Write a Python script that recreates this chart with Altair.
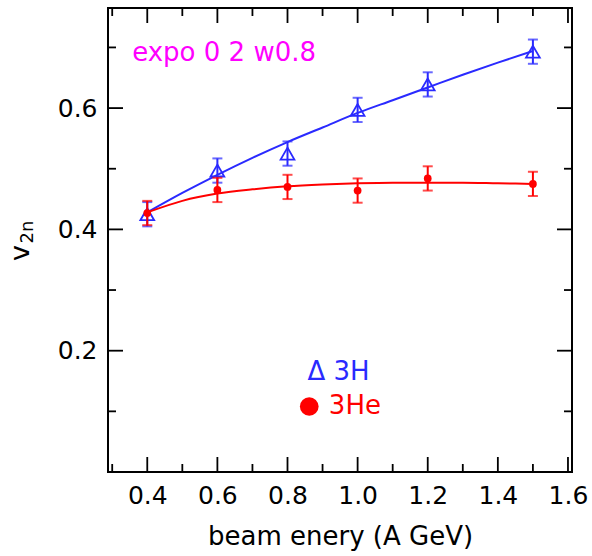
import altair as alt
import pandas as pd

# ---- data ----
energy = [0.4, 0.6, 0.8, 1.0, 1.2, 1.5]
v2_3H = [0.425, 0.497, 0.525, 0.597, 0.639, 0.693]
err_3H = [0.02, 0.02, 0.02, 0.02, 0.02, 0.02]
v2_3He = [0.427, 0.465, 0.470, 0.464, 0.484, 0.475]
err_3He = [0.02, 0.02, 0.02, 0.02, 0.02, 0.02]

fit_x = [0.4, 0.5, 0.6, 0.7, 0.8, 0.9, 1.0, 1.1, 1.2, 1.3, 1.4, 1.5]
fit_3H = [0.428, 0.460, 0.490, 0.518, 0.544, 0.568, 0.592, 0.613, 0.634, 0.655, 0.675, 0.694]
fit_3He = [0.428, 0.447, 0.459, 0.466, 0.471, 0.474, 0.476, 0.477, 0.477, 0.477, 0.476, 0.475]

x_major = [0.4, 0.6, 0.8, 1.0, 1.2, 1.4, 1.6]
x_minor = [0.3, 0.5, 0.7, 0.9, 1.1, 1.3, 1.5]
y_major = [0.2, 0.4, 0.6]
y_minor = [0.1, 0.3, 0.5, 0.7]

note_text = ["expo 0 2 w0.8"]
note_pos = [0.357, 0.690]
legend_labels = ["\u0394 3H", "3He"]
legend_x = [0.857, 0.918]
legend_y = [0.165, 0.108]
legend_dot = [0.862, 0.108]

BLUE = "#2a2aff"
RED = "#ff0000"
MAG = "#ff00ff"
FONT = "DejaVu Sans"
W, H = 464, 464
MAJ, MIN = 15, 8

xs = alt.Scale(domain=[0.288, 1.6115], nice=False, zero=False)
ys = alt.Scale(domain=[0.0, 0.765], nice=False, zero=False)

df_3H = pd.DataFrame({"e": energy, "v": v2_3H,
                      "lo": [a - b for a, b in zip(v2_3H, err_3H)],
                      "hi": [a + b for a, b in zip(v2_3H, err_3H)]})
df_3He = pd.DataFrame({"e": energy, "v": v2_3He,
                       "lo": [a - b for a, b in zip(v2_3He, err_3He)],
                       "hi": [a + b for a, b in zip(v2_3He, err_3He)]})
fit_H = pd.DataFrame({"e": fit_x, "v": fit_3H})
fit_He = pd.DataFrame({"e": fit_x, "v": fit_3He})

xaxis = alt.Axis(values=x_major, format=".1f", ticks=False, domain=False, grid=False,
                 labelFont=FONT, labelFontSize=25, labelColor="black", labelPadding=11,
                 title="beam enery (A GeV)", titleFont=FONT, titleFontSize=26,
                 titleFontWeight="normal", titleColor="black", titlePadding=15)
yaxis = alt.Axis(values=y_major, format=".1f", ticks=False, domain=False, grid=False,
                 labelFont=FONT, labelFontSize=25, labelColor="black", labelPadding=11,
                 title=None)

X = lambda f: alt.X(f, type="quantitative", scale=xs)
Y = lambda f: alt.Y(f, type="quantitative", scale=ys)

# fit curves
line_H = alt.Chart(fit_H).mark_line(color=BLUE, strokeWidth=2, interpolate="monotone").encode(
    x=alt.X("e:Q", scale=xs, axis=xaxis), y=alt.Y("v:Q", scale=ys, axis=yaxis))
line_He = alt.Chart(fit_He).mark_line(color=RED, strokeWidth=2, interpolate="monotone").encode(
    x=X("e"), y=Y("v"))

def errbars(df, color):
    bar = alt.Chart(df).mark_rule(color=color, strokeWidth=2).encode(x=X("e"), y=Y("lo"), y2="hi")
    cap_lo = alt.Chart(df).mark_tick(color=color, orient="horizontal", size=10, thickness=2).encode(x=X("e"), y=Y("lo"))
    cap_hi = alt.Chart(df).mark_tick(color=color, orient="horizontal", size=10, thickness=2).encode(x=X("e"), y=Y("hi"))
    return bar + cap_lo + cap_hi

pts_H = alt.Chart(df_3H).mark_point(shape="triangle-up", filled=False, size=190, strokeWidth=1.8,
                                    color=BLUE, opacity=1).encode(x=X("e"), y=Y("v"))
pts_He = alt.Chart(df_3He).mark_circle(size=60, color=RED, opacity=1).encode(x=X("e"), y=Y("v"))

# frame ticks (inward)
def tick_layers():
    layers = []
    for vals, ln in ((x_major, MAJ), (x_minor, MIN)):
        d = pd.DataFrame({"t": vals})
        layers.append(alt.Chart(d).mark_rule(color="black", strokeWidth=1.8).encode(
            x=X("t"), y=alt.value(H), y2=alt.value(H - ln)))
        layers.append(alt.Chart(d).mark_rule(color="black", strokeWidth=1.8).encode(
            x=X("t"), y=alt.value(0), y2=alt.value(ln)))
    for vals, ln in ((y_major, MAJ), (y_minor, MIN)):
        d = pd.DataFrame({"t": vals})
        layers.append(alt.Chart(d).mark_rule(color="black", strokeWidth=1.8).encode(
            y=Y("t"), x=alt.value(0), x2=alt.value(ln)))
        layers.append(alt.Chart(d).mark_rule(color="black", strokeWidth=1.8).encode(
            y=Y("t"), x=alt.value(W), x2=alt.value(W - ln)))
    return layers

note = alt.Chart(pd.DataFrame({"t": note_text, "x": [note_pos[0]], "y": [note_pos[1]]})).mark_text(
    font=FONT, fontSize=26, color=MAG, align="left", baseline="middle").encode(
    x=X("x"), y=Y("y"), text="t:N")

leg_H = alt.Chart(pd.DataFrame({"t": [legend_labels[0]], "x": [legend_x[0]], "y": [legend_y[0]]})).mark_text(
    font=FONT, fontSize=26, color=BLUE, align="left", baseline="middle").encode(
    x=X("x"), y=Y("y"), text="t:N")
leg_He = alt.Chart(pd.DataFrame({"t": [legend_labels[1]], "x": [legend_x[1]], "y": [legend_y[1]]})).mark_text(
    font=FONT, fontSize=26, color=RED, align="left", baseline="middle").encode(
    x=X("x"), y=Y("y"), text="t:N")
leg_dot = alt.Chart(pd.DataFrame({"x": [legend_dot[0]], "y": [legend_dot[1]]})).mark_circle(
    size=350, color=RED, opacity=1).encode(x=X("x"), y=Y("y"))

# y-axis title v_2n
ytitle_v = alt.Chart(pd.DataFrame({"t": ["v"]})).mark_text(
    font=FONT, fontSize=27, color="black", angle=270, align="center", baseline="middle").encode(
    text="t:N", x=alt.value(-87), y=alt.value(245))
ytitle_sub = alt.Chart(pd.DataFrame({"t": ["2n"]})).mark_text(
    font=FONT, fontSize=18, color="black", angle=270, align="center", baseline="middle").encode(
    text="t:N", x=alt.value(-80), y=alt.value(224))

chart = alt.layer(
    line_H, errbars(df_3H, BLUE), pts_H,
    line_He, errbars(df_3He, RED), pts_He,
    *tick_layers(), note, leg_H, leg_He, leg_dot, ytitle_v, ytitle_sub
).properties(
    width=W, height=H,
    padding={"left": 108, "top": 8, "right": 20, "bottom": 84},
    autosize=alt.AutoSizeParams(type="none"),
    background="white",
).configure_view(stroke="black", strokeWidth=2)

chart.save("out.html", embed_options={"renderer": "svg", "actions": False})
